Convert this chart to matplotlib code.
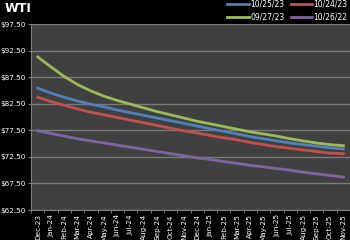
import matplotlib
matplotlib.use("Agg")
import matplotlib.pyplot as plt
import numpy as np

months = ["Dec-23", "Jan-24", "Feb-24", "Mar-24", "Apr-24", "May-24", "Jun-24", "Jul-24",
          "Aug-24", "Sep-24", "Oct-24", "Nov-24", "Dec-24", "Jan-25", "Feb-25", "Mar-25",
          "Apr-25", "May-25", "Jun-25", "Jul-25", "Aug-25", "Sep-25", "Oct-25", "Nov-25"]

curve_102523 = [85.4, 84.5, 83.7, 83.0, 82.4, 81.9, 81.3, 80.8, 80.3, 79.8, 79.3, 78.8,
                78.3, 77.8, 77.3, 76.8, 76.3, 75.9, 75.5, 75.1, 74.8, 74.5, 74.2, 74.0]
curve_102423 = [83.7, 82.9, 82.2, 81.5, 80.9, 80.4, 79.9, 79.4, 78.9, 78.4, 77.9, 77.4,
                77.0, 76.5, 76.1, 75.7, 75.2, 74.8, 74.4, 74.1, 73.8, 73.5, 73.2, 73.1]
curve_092723 = [91.3, 89.4, 87.6, 86.1, 84.9, 83.9, 83.1, 82.4, 81.7, 81.0, 80.4, 79.8,
                79.2, 78.7, 78.2, 77.7, 77.2, 76.8, 76.4, 75.9, 75.5, 75.1, 74.8, 74.6]
curve_102622 = [77.4, 76.9, 76.4, 75.9, 75.5, 75.1, 74.7, 74.3, 73.9, 73.5, 73.1, 72.7,
                72.3, 72.0, 71.6, 71.3, 70.9, 70.6, 70.3, 70.0, 69.6, 69.3, 69.0, 68.7]

y_ticks = [62.5, 67.5, 72.5, 77.5, 82.5, 87.5, 92.5, 97.5]

fig = plt.figure(figsize=(3.5, 2.4), dpi=100, facecolor="black")
ax = fig.add_axes([0.089, 0.125, 0.911, 0.775])
ax.set_facecolor("#404040")

x = np.arange(len(months))
# order chosen so the 2-column legend reads like the original
ax.plot(x, curve_102523, color="#4F81BD", lw=2, label="10/25/23")
ax.plot(x, curve_092723, color="#9BBB59", lw=2, label="09/27/23")
ax.plot(x, curve_102423, color="#C0504D", lw=2, label="10/24/23")
ax.plot(x, curve_102622, color="#8064A2", lw=2, label="10/26/22")

ax.set_xlim(-0.5, len(months) - 0.5)
ax.set_ylim(62.5, 97.5)
ax.set_yticks(y_ticks)
ax.set_yticklabels(["$%.2f" % v for v in y_ticks])
ax.yaxis.grid(True, color="#7a7a7a", lw=1)
ax.set_axisbelow(True)

ax.set_xticks(x)
ax.set_xticklabels(months, rotation=90)
ax.set_xticks(np.arange(-0.5, len(months)), minor=True)
ax.tick_params(axis="x", which="major", length=0, pad=3, labelsize=5.2, colors="white")
ax.tick_params(axis="x", which="minor", length=2, color="#808080")
ax.tick_params(axis="y", length=2, color="#808080", labelsize=5.2, labelcolor="white", pad=2)

for s in ["top", "right"]:
    ax.spines[s].set_visible(False)
ax.spines["left"].set_color("#808080")
ax.spines["bottom"].set_color("#808080")

fig.text(0.012, 0.965, "WTI", color="white", fontsize=9, fontweight="bold", va="center")

leg = ax.legend(ncol=2, loc="lower right", bbox_to_anchor=(1.0, 1.0), frameon=False,
                fontsize=5.5, labelcolor="white", handlelength=2.8, handletextpad=0.2,
                columnspacing=0.8, labelspacing=0.5, borderaxespad=0.1, borderpad=0.2)

fig.savefig("out.png", dpi=100, facecolor="black")
